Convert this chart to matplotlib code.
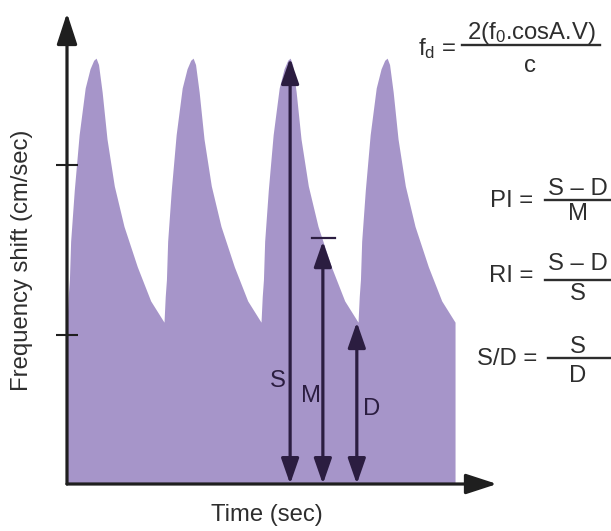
import matplotlib

matplotlib.use("Agg")
import matplotlib.pyplot as plt
import numpy as np
from matplotlib.lines import Line2D
from matplotlib.patches import FancyArrowPatch


# one cardiac cycle (seconds after onset, cm/sec)
CYCLE_T = [0.00, 0.01, 0.02, 0.03, 0.06, 0.10, 0.15, 0.19, 0.22, 0.24, 0.26, 0.29, 0.33, 0.39, 0.47, 0.58, 0.69, 0.80]
CYCLE_V = [38, 44, 48, 57, 69, 82, 93, 97.5, 99.5, 100, 98.5, 92, 81, 70, 60.5, 51, 43, 38]
BEAT_ONSETS = [0.0, 0.8, 1.6, 2.4]

# measurements taken on the third beat
MEASURE_LABELS = ["S", "M", "D"]
MEASURE_TIMES = [1.84, 2.11, 2.39]
MEASURE_VALUES = [100, 57, 38]

Y_TICKS = [35, 75]

FILL = "#a695c9"
INK = "#2b1d40"
AXIS = "#1f1f1f"
TEXT = "#2e2e2e"
W, H = 611, 531


def px(x, y):
    return x / W, 1 - y / H


def arrow(ax, start, end, style, lw, transform, color, zorder=5):
    patch = FancyArrowPatch(
        start, end, arrowstyle=style, color=color, linewidth=lw,
        shrinkA=0, shrinkB=0, mutation_scale=1, transform=transform,
        clip_on=False, zorder=zorder,
    )
    ax.add_patch(patch)


def main():
    plt.rcParams["font.family"] = ["Liberation Sans", "DejaVu Sans"]
    plt.rcParams["mathtext.fontset"] = "custom"
    plt.rcParams["mathtext.rm"] = "Liberation Sans"
    fs = 17.2

    fig = plt.figure(figsize=(W / 100, H / 100), dpi=100)
    ax = fig.add_axes([67 / W, 47 / H, 430 / W, 471 / H])
    ax.set_xlim(0, 3.546)
    ax.set_ylim(0, 110.6)
    for spine in ax.spines.values():
        spine.set_visible(False)
    ax.set_xticks([])
    ax.set_yticks(Y_TICKS)
    ax.set_yticklabels([])
    ax.tick_params(axis="y", direction="inout", length=16, width=1.5, color=AXIS)

    t = np.concatenate([onset + np.asarray(CYCLE_T) for onset in BEAT_ONSETS])
    v = np.concatenate([np.asarray(CYCLE_V, dtype=float) for _ in BEAT_ONSETS])
    ax.fill_between(t, 0, v, color=FILL, linewidth=0, zorder=1)

    # axes drawn as arrows
    arrow(ax, (0, 0), (0, 1), "-|>,head_length=19,head_width=6.2", 2.3, ax.transAxes, AXIS)
    arrow(ax, (0, 0), (1, 0), "-|>,head_length=19,head_width=6.2", 2.3, ax.transAxes, AXIS)

    offsets = [(-8.6, 69.8), (-8.6, 59.0), (10.8, 49.7)]
    for label, tm, val, off in zip(MEASURE_LABELS, MEASURE_TIMES, MEASURE_VALUES, offsets):
        arrow(ax, (tm, 0), (tm, val), "<|-|>,head_length=15.5,head_width=5.4", 2.3, ax.transData, INK, 4)
        ax.annotate(label, (tm, 0), xytext=off, textcoords="offset points",
                    ha="center", va="baseline", fontsize=fs, color=INK)
    m_time, m_val = MEASURE_TIMES[1], MEASURE_VALUES[1]
    ax.plot([m_time - 0.09, m_time + 0.1], [m_val + 0.8, m_val + 0.8], color=INK, lw=1.6,
            clip_on=False, zorder=4)

    fig.text(*px(22, 260), "Frequency shift (cm/sec)", rotation=90, ha="center", va="center",
             fontsize=fs, color=TEXT)
    fig.text(*px(267, 515), "Time (sec)", ha="center", va="center", fontsize=fs, color=TEXT)

    def bar(x0, x1, y):
        (a, b), (c, _) = px(x0, y), px(x1, y)
        fig.add_artist(Line2D([a, c], [b, b], color=TEXT, lw=1.7, transform=fig.transFigure))

    # Doppler equation
    fig.text(*px(456, 55), r"$\mathregular{f_d}$ =", ha="right", va="baseline", fontsize=fs, color=TEXT)
    fig.text(*px(531, 39), r"2($\mathregular{f_0}$.cosA.V)", ha="center", va="baseline",
             fontsize=fs, color=TEXT)
    bar(462, 600, 45)
    fig.text(*px(530, 72), "c", ha="center", va="baseline", fontsize=fs, color=TEXT)

    # indices
    rows = [
        ("PI =", 533, 207, "S \u2013 D", 195, 200, "M", 220, 545),
        ("RI =", 533, 282, "S \u2013 D", 270, 280, "S", 300, 545),
        ("S/D =", 537, 365, "S", 353, 358, "D", 382, 548),
    ]
    for name, nx, ny, num, num_y, bar_y, den, den_y, bar_x in rows:
        fig.text(*px(nx, ny), name, ha="right", va="baseline", fontsize=fs, color=TEXT)
        fig.text(*px(578, num_y), num, ha="center", va="baseline", fontsize=fs, color=TEXT)
        bar(bar_x, 612, bar_y)
        fig.text(*px(578, den_y), den, ha="center", va="baseline", fontsize=fs, color=TEXT)

    fig.savefig("out.png", dpi=100)
    plt.close(fig)


if __name__ == "__main__":
    main()
